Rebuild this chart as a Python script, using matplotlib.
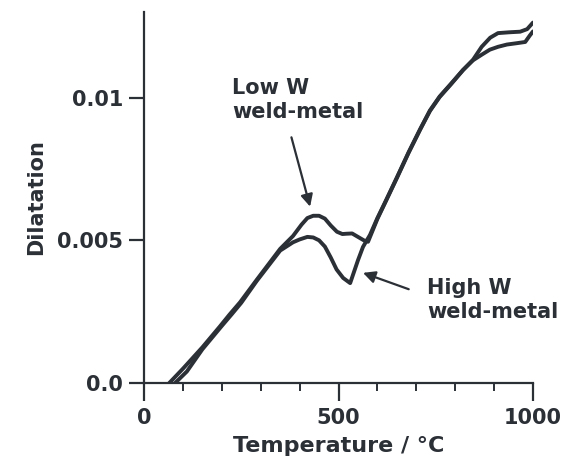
import matplotlib
matplotlib.use("Agg")
import matplotlib.pyplot as plt
from matplotlib.ticker import MultipleLocator

plt.rcParams['font.family'] = ['DejaVu Sans']
plt.rcParams['font.weight'] = 'bold'

INK = '#2b2f36'

# Low W weld-metal (upper hump)
low_T = [65, 100, 150, 195, 220, 247, 290, 350, 383, 405, 420, 435, 450, 465, 480, 496,
         510, 520, 535, 550, 565, 576, 600, 620, 650, 680, 710, 735, 760, 790, 820, 846,
         868, 890, 910, 940, 967, 985, 1000]
low_D = [0.0, 0.0005, 0.00125, 0.00198, 0.00240, 0.00283, 0.00362, 0.00470, 0.00515,
         0.00555, 0.00578, 0.00586, 0.00586, 0.00576, 0.00552, 0.00530,
         0.00522, 0.00523, 0.00524, 0.00512, 0.00500, 0.00495, 0.00575, 0.00632, 0.00718,
         0.00806, 0.00888, 0.00953, 0.01002, 0.01048, 0.01096, 0.01133,
         0.01178, 0.01210, 0.01226, 0.01229, 0.01231, 0.01240, 0.01263]

# High W weld-metal (lower hump with dip)
high_T = [80, 110, 150, 200, 225, 250, 290, 350, 383, 400, 420, 435, 450, 465, 480, 495,
          512, 530, 540, 550, 563, 581, 600, 620, 650, 680, 710, 735, 760, 790, 820, 846,
          870, 889, 910, 933, 960, 980, 992, 1000]
high_D = [0.0, 0.0004, 0.00118, 0.00200, 0.00240, 0.00281, 0.00358, 0.00464, 0.00493,
          0.00503, 0.00512, 0.00510, 0.00500, 0.00478, 0.00440, 0.00398,
          0.00368, 0.00350, 0.00390, 0.00430, 0.00477, 0.00519, 0.00578, 0.00634, 0.00720,
          0.00808, 0.00890, 0.00955, 0.01004, 0.01050, 0.01097, 0.01131,
          0.01152, 0.01168, 0.01178, 0.01186, 0.01191, 0.01195, 0.01218, 0.01232]

x_ticks = [0, 500, 1000]
x_tick_labels = ['0', '500', '1000']
y_ticks = [0.0, 0.005, 0.01]
y_tick_labels = ['0.0', '0.005', '0.01']

fig = plt.figure(figsize=(5.73, 4.75), dpi=100)
ax = fig.add_axes([144 / 573, 1 - 383 / 475, (533 - 144) / 573, (383 - 12) / 475])

ax.plot(low_T, low_D, color=INK, lw=2.8, solid_joinstyle='round', solid_capstyle='round')
ax.plot(high_T, high_D, color=INK, lw=2.8, solid_joinstyle='round', solid_capstyle='round')

ax.set_xlim(0, 1000)
ax.set_ylim(0, 0.013)

for s in ['top', 'right']:
    ax.spines[s].set_visible(False)
for s in ['left', 'bottom']:
    ax.spines[s].set_linewidth(1.6)
    ax.spines[s].set_color(INK)

ax.set_xticks(x_ticks)
ax.set_xticklabels(x_tick_labels)
ax.xaxis.set_minor_locator(MultipleLocator(100))
ax.set_yticks(y_ticks)
ax.set_yticklabels(y_tick_labels)

ax.tick_params(axis='x', which='major', direction='out', length=13, width=1.6,
               color=INK, labelsize=15, pad=5, labelcolor=INK)
ax.tick_params(axis='x', which='minor', direction='out', length=6, width=1.4, color=INK)
ax.tick_params(axis='y', which='major', direction='out', length=11, width=1.6,
               color=INK, labelsize=15, pad=4, labelcolor=INK)

ax.set_xlabel('Temperature / °C', fontsize=16, fontweight='bold', color=INK, labelpad=6)
ax.set_ylabel('Dilatation', fontsize=15, fontweight='bold', color=INK, labelpad=8)

ax.annotate('Low W\nweld-metal', xy=(427, 0.00618), xytext=(227, 0.0099),
            textcoords='data', fontsize=15, fontweight='bold', color=INK,
            ha='left', va='center', linespacing=1.25,
            arrowprops=dict(arrowstyle='-|>', color=INK, lw=1.6, mutation_scale=18,
                            shrinkA=9, shrinkB=0, relpos=(0.42, 0.0)))
ax.annotate('High W\nweld-metal', xy=(563, 0.00386), xytext=(728, 0.0029),
            textcoords='data', fontsize=15, fontweight='bold', color=INK,
            ha='left', va='center', linespacing=1.25,
            arrowprops=dict(arrowstyle='-|>', color=INK, lw=1.6, mutation_scale=18,
                            shrinkA=12, shrinkB=0, relpos=(0.0, 0.6)))

fig.savefig('out.png', dpi=100)
